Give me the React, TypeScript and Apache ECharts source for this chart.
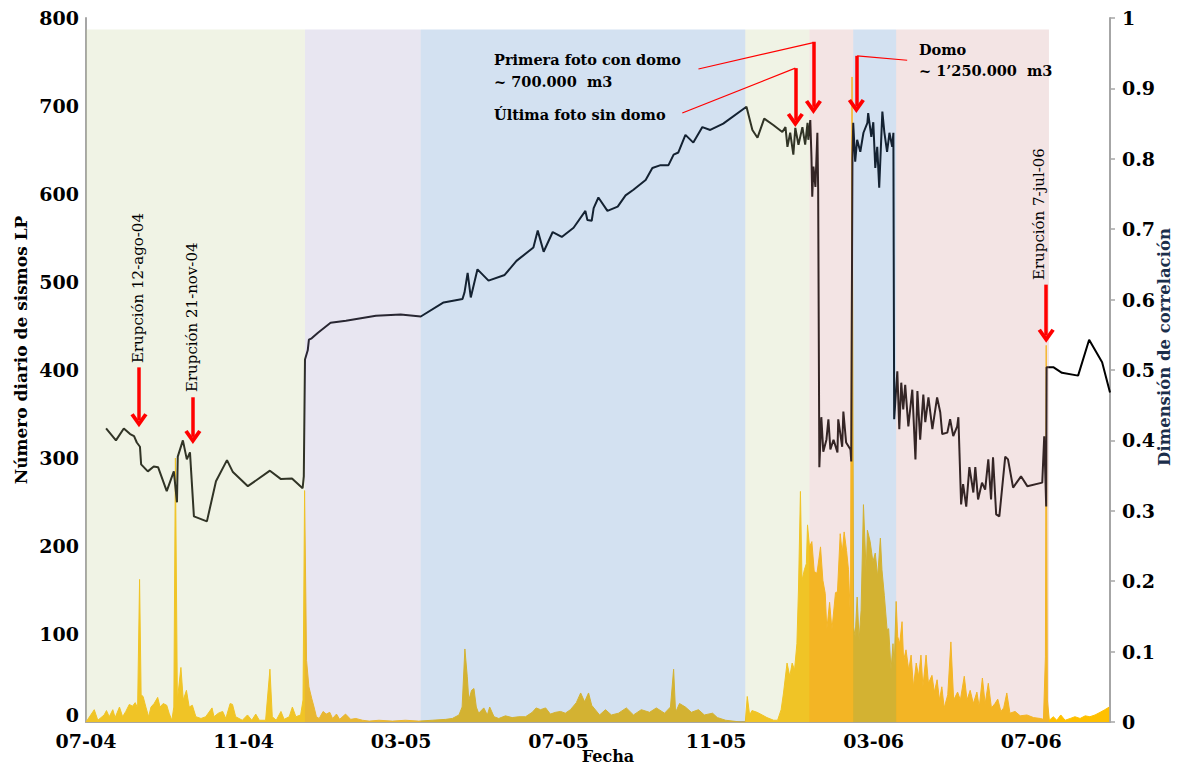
import React, { useEffect, useRef } from 'react';
import * as echarts from 'echarts';

// x unit: months elapsed since July 2004
const tickLabels = ['07-04', '11-04', '03-05', '07-05', '11-05', '03-06', '07-06'];

// Daily number of LP events (left axis)
const lpCounts: [number, number][] = [
  [0, 0], [0.21, 14], [0.3, 2], [0.46, 8], [0.52, 13], [0.59, 6], [0.68, 14], [0.74, 5], [0.85, 17], [0.93, 6],
  [1.01, 12], [1.1, 20], [1.18, 18], [1.25, 22], [1.31, 16], [1.36, 162], [1.4, 31], [1.45, 29], [1.52, 17], [1.59, 6],
  [1.65, 17], [1.73, 21], [1.82, 28], [1.88, 17], [1.96, 21], [2.05, 19], [2.11, 10], [2.18, 2], [2.23, 17], [2.27, 300],
  [2.32, 25], [2.41, 62], [2.47, 25], [2.55, 36], [2.62, 17], [2.7, 19], [2.79, 6], [2.92, 4], [3.04, 6], [3.2, 16],
  [3.25, 6], [3.36, 10], [3.47, 12], [3.55, 4], [3.66, 21], [3.72, 20], [3.8, 6], [3.97, 2], [4.1, 8], [4.21, 2],
  [4.31, 9], [4.4, 2], [4.56, 2], [4.67, 60], [4.73, 6], [4.83, 2], [4.95, 12], [5.03, 3], [5.16, 6], [5.24, 17],
  [5.33, 6], [5.45, 8], [5.51, 25], [5.55, 263], [5.6, 70], [5.66, 40], [5.73, 27], [5.79, 17], [5.85, 6], [5.92, 4],
  [6.02, 12], [6.1, 9], [6.19, 11], [6.26, 4], [6.36, 9], [6.44, 3], [6.59, 9], [6.72, 3], [6.85, 4], [7.02, 2],
  [7.19, 1], [7.44, 2], [7.78, 1], [8.11, 2], [8.45, 1], [8.79, 2], [9.13, 3], [9.3, 4], [9.47, 8], [9.55, 17],
  [9.62, 83], [9.68, 52], [9.72, 25], [9.79, 36], [9.85, 38], [9.91, 17], [9.97, 10], [10.1, 16], [10.19, 8], [10.25, 17],
  [10.36, 6], [10.48, 4], [10.65, 7], [10.82, 5], [10.99, 6], [11.16, 6], [11.33, 11], [11.43, 16], [11.54, 14], [11.67, 16],
  [11.79, 9], [11.92, 11], [12.05, 12], [12.17, 10], [12.3, 14], [12.45, 22], [12.56, 33], [12.66, 23], [12.76, 33], [12.84, 19],
  [13.04, 8], [13.19, 14], [13.34, 8], [13.52, 10], [13.72, 16], [13.9, 8], [14.1, 14], [14.31, 11], [14.48, 16], [14.69, 10],
  [14.84, 17], [14.92, 60], [14.97, 11], [15.07, 21], [15.22, 17], [15.37, 11], [15.55, 14], [15.7, 8], [15.91, 10], [16.03, 5],
  [16.24, 2], [16.62, 0], [16.74, 0], [16.79, 29], [16.85, 8], [16.91, 13], [17.04, 11], [17.17, 8], [17.29, 5], [17.46, 2],
  [17.56, 2], [17.65, 14], [17.71, 33], [17.8, 67], [17.87, 52], [17.93, 67], [17.99, 59], [18.05, 89], [18.09, 150], [18.14, 262],
  [18.18, 161], [18.24, 173], [18.29, 180], [18.32, 224], [18.37, 199], [18.43, 205], [18.49, 171], [18.56, 169], [18.65, 199], [18.71, 161],
  [18.77, 146], [18.81, 105], [18.88, 136], [18.94, 105], [19.03, 147], [19.08, 148], [19.15, 214], [19.2, 192], [19.25, 216], [19.31, 195],
  [19.36, 173], [19.41, 116], [19.45, 733], [19.49, 108], [19.53, 97], [19.58, 142], [19.63, 93], [19.68, 127], [19.74, 247], [19.81, 169],
  [19.84, 218], [19.91, 205], [19.98, 182], [20.04, 192], [20.1, 165], [20.17, 209], [20.21, 173], [20.27, 144], [20.34, 105], [20.38, 106],
  [20.44, 59], [20.49, 89], [20.52, 63], [20.57, 137], [20.61, 97], [20.66, 89], [20.72, 114], [20.76, 70], [20.82, 82], [20.89, 59],
  [20.95, 76], [21.01, 40], [21.08, 67], [21.14, 52], [21.2, 76], [21.25, 40], [21.33, 76], [21.39, 44], [21.48, 53], [21.54, 34],
  [21.61, 48], [21.67, 25], [21.73, 40], [21.79, 16], [21.88, 31], [21.96, 91], [22.03, 25], [22.13, 34], [22.2, 25], [22.3, 52],
  [22.37, 25], [22.45, 36], [22.53, 21], [22.62, 34], [22.68, 17], [22.76, 50], [22.83, 21], [22.91, 44], [22.99, 16], [23.08, 21],
  [23.15, 26], [23.23, 12], [23.3, 16], [23.38, 33], [23.46, 10], [23.59, 12], [23.72, 7], [23.89, 8], [24.06, 5], [24.23, 4],
  [24.31, 3], [24.36, 74], [24.38, 428], [24.41, 25], [24.46, 2], [24.56, 6], [24.65, 2], [24.75, 8], [24.86, 2], [24.99, 4],
  [25.11, 6], [25.24, 4], [25.37, 7], [25.49, 6], [25.62, 8], [25.75, 11], [25.87, 14], [25.98, 17],
];

// Correlation dimension (right axis)
const corrDim: [number, number][] = [
  [0.51, 0.417], [0.76, 0.4], [0.96, 0.417], [1.12, 0.409], [1.22, 0.406], [1.29, 0.397], [1.37, 0.391], [1.4, 0.366], [1.57, 0.356], [1.72, 0.363],
  [1.83, 0.362], [2.05, 0.328], [2.23, 0.356], [2.31, 0.312], [2.33, 0.377], [2.46, 0.4], [2.56, 0.373], [2.64, 0.383], [2.74, 0.292], [3.07, 0.285],
  [3.3, 0.342], [3.58, 0.372], [3.73, 0.355], [4.11, 0.335], [4.67, 0.357], [4.95, 0.345], [5.23, 0.346], [5.5, 0.332], [5.53, 0.349], [5.56, 0.515],
  [5.63, 0.528], [5.66, 0.543], [5.73, 0.545], [5.89, 0.553], [6.21, 0.567], [6.6, 0.57], [7.36, 0.577], [7.99, 0.579], [8.5, 0.576], [9.08, 0.596],
  [9.56, 0.601], [9.61, 0.61], [9.69, 0.638], [9.77, 0.603], [9.94, 0.643], [10.22, 0.627], [10.63, 0.635], [10.93, 0.655], [11.36, 0.674], [11.47, 0.698],
  [11.62, 0.668], [11.85, 0.696], [12.08, 0.689], [12.38, 0.702], [12.68, 0.726], [12.73, 0.713], [12.84, 0.712], [12.89, 0.73], [13.01, 0.745], [13.24, 0.726],
  [13.5, 0.732], [13.7, 0.748], [13.9, 0.756], [14.21, 0.77], [14.38, 0.787], [14.59, 0.791], [14.79, 0.791], [14.92, 0.806], [15.04, 0.809], [15.22, 0.834],
  [15.42, 0.823], [15.65, 0.845], [15.85, 0.841], [16.18, 0.85], [16.77, 0.874], [16.92, 0.841], [17.05, 0.83], [17.22, 0.857], [17.45, 0.848], [17.68, 0.838],
  [17.76, 0.845], [17.81, 0.817], [17.88, 0.837], [17.96, 0.806], [18.01, 0.844], [18.09, 0.82], [18.19, 0.845], [18.26, 0.82], [18.32, 0.851], [18.34, 0.827],
  [18.39, 0.855], [18.42, 0.803], [18.44, 0.746], [18.47, 0.789], [18.52, 0.76], [18.57, 0.837], [18.59, 0.756], [18.62, 0.362], [18.67, 0.433], [18.72, 0.384],
  [18.8, 0.401], [18.85, 0.43], [18.9, 0.387], [18.98, 0.401], [19.08, 0.383], [19.1, 0.43], [19.2, 0.391], [19.23, 0.441], [19.3, 0.397], [19.41, 0.387],
  [19.43, 0.37], [19.46, 0.799], [19.48, 0.851], [19.53, 0.796], [19.58, 0.827], [19.66, 0.81], [19.74, 0.837], [19.84, 0.851], [19.86, 0.865], [19.94, 0.831],
  [19.99, 0.852], [20.04, 0.787], [20.09, 0.817], [20.14, 0.759], [20.22, 0.867], [20.27, 0.838], [20.34, 0.81], [20.4, 0.837], [20.47, 0.817], [20.5, 0.837],
  [20.52, 0.43], [20.6, 0.498], [20.65, 0.416], [20.7, 0.482], [20.75, 0.444], [20.8, 0.479], [20.88, 0.42], [20.98, 0.472], [21.06, 0.373], [21.11, 0.47],
  [21.18, 0.401], [21.26, 0.465], [21.31, 0.426], [21.39, 0.461], [21.49, 0.416], [21.61, 0.461], [21.69, 0.44], [21.74, 0.409], [21.87, 0.411], [21.94, 0.43],
  [22.02, 0.406], [22.12, 0.42], [22.15, 0.433], [22.22, 0.309], [22.27, 0.338], [22.35, 0.306], [22.43, 0.362], [22.53, 0.326], [22.58, 0.362], [22.65, 0.316],
  [22.75, 0.34], [22.83, 0.33], [22.91, 0.373], [22.98, 0.316], [23.03, 0.376], [23.11, 0.295], [23.19, 0.292], [23.34, 0.377], [23.41, 0.373], [23.54, 0.333],
  [23.74, 0.349], [23.9, 0.335], [24.28, 0.34], [24.33, 0.406], [24.38, 0.306], [24.39, 0.504], [24.56, 0.504], [24.78, 0.496], [25.19, 0.492], [25.47, 0.543],
  [25.8, 0.511], [26, 0.468],
];

// Shaded phases (in months since 07-2004)
const phaseBounds = [0, 5.56, 8.5, 16.74, 18.37, 19.48, 20.57, 24.45];
const phaseColors = [
  'rgba(195,207,151,0.25)',
  'rgba(163,155,199,0.25)',
  'rgba(79,135,199,0.25)',
  'rgba(195,207,151,0.25)',
  'rgba(207,147,147,0.25)',
  'rgba(79,135,199,0.25)',
  'rgba(207,147,147,0.25)',
];
const shadeTop = 787;

// Red arrows: x (months), start and end (left-axis units)
const arrowX = [1.345, 2.714, 18.01, 18.47, 19.56, 24.38];
const arrowFrom = [403, 369, 743, 773, 757, 497];
const arrowTo = [343, 324, 684, 699, 700, 439];
// Thin leader lines
const leaders: [number, number][][] = [
  [[15.55, 742], [18.47, 772]],
  [[15.14, 692], [18.01, 743]],
  [[20.85, 752], [19.58, 757]],
];

const FONT = "'DejaVu Serif', serif";
const CHEVRON = 'path://M0,12 L8,0 L16,12 L13,14 L8,6.5 L3,14 Z';

export default function App() {
  const ref = useRef<HTMLDivElement>(null);

  useEffect(() => {
    if (!ref.current) return;
    const chart = echarts.init(ref.current, undefined, { renderer: 'svg' });

    const boldText = (text: string, x: number, y: number) => ({
      type: 'text', x, y, z: 100, silent: true,
      style: { text, fontFamily: FONT, fontWeight: 'bold', fontSize: 14.5, fill: '#000', align: 'left', verticalAlign: 'middle' },
    });
    const vertText = (text: string, x: number, y: number) => ({
      type: 'text', x, y, z: 100, silent: true, rotation: Math.PI / 2,
      style: { text, fontFamily: FONT, fontSize: 15, fill: '#000', align: 'left', verticalAlign: 'middle' },
    });

    const labelFont = { fontFamily: FONT, fontWeight: 'bold', fontSize: 19, color: '#000' };

    const option: any = {
      animation: false,
      backgroundColor: '#fff',
      grid: { left: 86, right: 68, top: 18, bottom: 45, containLabel: false, outerBoundsMode: 'none' },
      xAxis: {
        type: 'value', min: 0, max: 26, interval: 4,
        axisLine: { show: true, lineStyle: { color: '#A6A6A6', width: 2 } },
        axisTick: { show: false },
        splitLine: { show: false },
        axisLabel: {
          formatter: (v: number) => (v % 4 === 0 ? tickLabels[v / 4] ?? '' : ''),
          ...labelFont, margin: 9,
        },
        name: 'Fecha', nameLocation: 'middle', nameGap: 26, nameMoveOverlap: false,
        nameTextStyle: { fontFamily: FONT, fontWeight: 'bold', fontSize: 16, color: '#000', padding: [0, 0, 0, 20] },
      },
      yAxis: [
        {
          type: 'value', position: 'left', min: 0, max: 800, interval: 100,
          axisLine: { show: true, lineStyle: { color: '#A6A6A6', width: 2 } },
          axisTick: { show: false },
          splitLine: { show: false },
          axisLabel: {
            formatter: (v: number) => (v === 0 ? '{z|0}' : String(v)),
            ...labelFont, margin: 7,
            rich: { z: { ...labelFont, padding: [0, 0, 15, 0] } },
          },
          name: 'Número diario de sismos LP', nameLocation: 'middle', nameGap: 57, nameRotate: 90, nameMoveOverlap: false,
          nameTextStyle: { fontFamily: FONT, fontWeight: 'bold', fontSize: 17, color: '#000', padding: [0, 0, 0, 40] },
        },
        {
          type: 'value', position: 'right', min: 0, max: 1, interval: 0.1,
          axisLine: { show: true, lineStyle: { color: '#A6A6A6', width: 2 } },
          axisTick: { show: true, length: 5, inside: false, lineStyle: { color: '#A6A6A6', width: 1.5 } },
          splitLine: { show: false },
          axisLabel: {
            formatter: (v: number) => String(Math.round(v * 10) / 10),
            ...labelFont, margin: 12,
          },
          name: 'Dimensión de correlación', nameLocation: 'middle', nameGap: 46, nameRotate: 90, nameMoveOverlap: false,
          nameTextStyle: { fontFamily: FONT, fontWeight: 'bold', fontSize: 16.5, color: '#1B2E4B', padding: [0, 0, 0, 46] },
        },
      ],
      series: [
        {
          name: 'Sismos LP', type: 'line', yAxisIndex: 0, z: 1,
          data: lpCounts, showSymbol: false, symbol: 'none', silent: true,
          lineStyle: { color: '#FFC000', width: 1 },
          areaStyle: { color: '#FFC000', opacity: 1 },
        },
        {
          name: 'Dimensión de correlación', type: 'line', yAxisIndex: 1, z: 2,
          data: corrDim, showSymbol: false, symbol: 'none', silent: true,
          lineStyle: { color: '#000', width: 2 },
        },
        {
          name: 'fases', type: 'line', yAxisIndex: 0, data: [], silent: true,
          markArea: {
            z: 3, silent: true,
            data: phaseColors.map((c, i) => [
              { xAxis: phaseBounds[i], yAxis: 0, itemStyle: { color: c } },
              { xAxis: phaseBounds[i + 1], yAxis: shadeTop },
            ]),
          },
        },
        {
          name: 'flechas', type: 'line', yAxisIndex: 0, data: [], silent: true,
          markLine: {
            z: 6, silent: true, symbol: ['none', CHEVRON], symbolSize: [17, 14],
            label: { show: false },
            lineStyle: { color: '#FF0000', width: 3.5, type: 'solid' },
            data: arrowX.map((x, i) => [
              { coord: [x, arrowFrom[i]] },
              { coord: [x, arrowTo[i]] },
            ]),
          },
        },
        {
          name: 'guias', type: 'line', yAxisIndex: 0, data: [], silent: true,
          markLine: {
            z: 6, silent: true, symbol: ['none', 'none'],
            label: { show: false },
            lineStyle: { color: '#FF0000', width: 1.2, type: 'solid' },
            data: leaders.map((seg) => [{ coord: seg[0] }, { coord: seg[1] }]),
          },
        },
      ],
      graphic: [
        boldText('Primera foto con domo', 494, 59),
        boldText('~ 700.000  m3', 494, 81),
        boldText('Última foto sin domo', 494, 114),
        boldText('Domo', 919, 49),
        boldText('~ 1’250.000  m3', 919, 70),
        vertText('Erupción 12-ago-04', 138, 363),
        vertText('Erupción 21-nov-04', 192, 392),
        vertText('Erupción 7-jul-06', 1039, 280),
      ],
    };

    chart.setOption(option);
    return () => chart.dispose();
  }, []);

  return (
    <div
      ref={ref}
      style={{ position: 'absolute', left: 0, top: 0, width: 1178, height: 767 }}
    />
  );
}
